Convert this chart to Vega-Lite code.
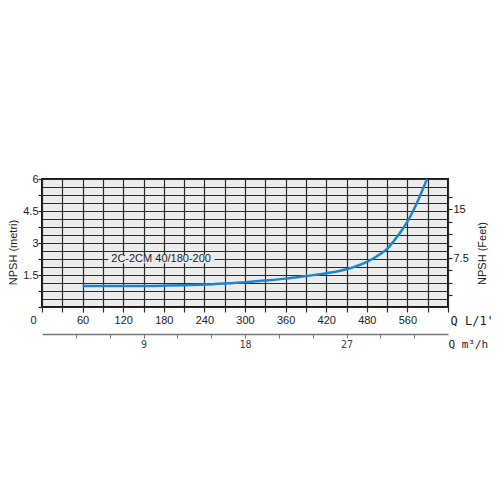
{
  "$schema": "https://vega.github.io/schema/vega-lite/v6.json",
  "background": "white",
  "autosize": "none",
  "padding": {"left": 42, "top": 179, "right": 52, "bottom": 193},
  "width": 406,
  "height": 128,
  "config": {
    "view": {"stroke": "#1a1a1a", "strokeWidth": 2, "fill": "#ececec"},
    "axis": {"labelFont": "Liberation Sans", "titleFont": "Liberation Sans", "labelColor": "#222", "titleColor": "#222"}
  },
  "datasets": {
    "curve": [
      {"q": 60, "q_m3h": 3.6, "npsh": 0.98, "npsh_ft": 3.22},
      {"q": 90, "q_m3h": 5.4, "npsh": 0.98, "npsh_ft": 3.22},
      {"q": 120, "q_m3h": 7.2, "npsh": 0.99, "npsh_ft": 3.25},
      {"q": 150, "q_m3h": 9.0, "npsh": 0.99, "npsh_ft": 3.25},
      {"q": 180, "q_m3h": 10.8, "npsh": 1.0, "npsh_ft": 3.28},
      {"q": 210, "q_m3h": 12.6, "npsh": 1.02, "npsh_ft": 3.35},
      {"q": 240, "q_m3h": 14.4, "npsh": 1.05, "npsh_ft": 3.44},
      {"q": 270, "q_m3h": 16.2, "npsh": 1.1, "npsh_ft": 3.61},
      {"q": 300, "q_m3h": 18.0, "npsh": 1.16, "npsh_ft": 3.81},
      {"q": 330, "q_m3h": 19.8, "npsh": 1.24, "npsh_ft": 4.07},
      {"q": 360, "q_m3h": 21.6, "npsh": 1.33, "npsh_ft": 4.36},
      {"q": 390, "q_m3h": 23.4, "npsh": 1.45, "npsh_ft": 4.76},
      {"q": 420, "q_m3h": 25.2, "npsh": 1.58, "npsh_ft": 5.18},
      {"q": 450, "q_m3h": 27.0, "npsh": 1.77, "npsh_ft": 5.81},
      {"q": 480, "q_m3h": 28.8, "npsh": 2.12, "npsh_ft": 6.96},
      {"q": 495, "q_m3h": 29.7, "npsh": 2.38, "npsh_ft": 7.81},
      {"q": 510, "q_m3h": 30.6, "npsh": 2.72, "npsh_ft": 8.92},
      {"q": 525, "q_m3h": 31.5, "npsh": 3.3, "npsh_ft": 10.83},
      {"q": 540, "q_m3h": 32.4, "npsh": 4.0, "npsh_ft": 13.12},
      {"q": 555, "q_m3h": 33.3, "npsh": 4.95, "npsh_ft": 16.24},
      {"q": 569, "q_m3h": 34.14, "npsh": 6.0, "npsh_ft": 19.68}
    ]
  },
  "layer": [
    {
      "encoding": {
        "x": {
          "field": "q", "type": "quantitative",
          "scale": {"domain": [0, 600], "nice": false},
          "axis": {
            "title": "Q L/1'", "titleFont": "DejaVu Sans Mono", "titleFontSize": 12, "titleFontWeight": "normal",
            "titleX": 408, "titleY": 13, "titleAlign": "left", "titleBaseline": "middle",
            "values": [0, 30, 60, 90, 120, 150, 180, 210, 240, 270, 300, 330, 360, 390, 420, 450, 480, 510, 540, 570, 600],
            "labelExpr": "datum.value == 0 ? '0' : datum.value == 540 ? '560' : (datum.value % 60 == 0 && datum.value < 540) ? '' + datum.value : ''",
            "labelAlign": {"condition": {"test": "datum.value == 0", "value": "right"}, "value": "center"},
            "labelOffset": {"condition": {"test": "datum.value == 0", "value": -6}, "value": 0},
            "labelFontSize": 11, "labelPadding": 2, "labelFlush": false, "labelOverlap": false,
            "domain": false, "grid": true, "gridColor": "#2a2a2a", "gridWidth": 1.2,
            "ticks": true, "tickColor": "#2a2a2a", "tickSize": 5, "tickWidth": 1.2
          }
        },
        "y": {
          "field": "npsh", "type": "quantitative",
          "scale": {"domain": [0, 6], "nice": false},
          "axis": {
            "title": "NPSH (metri)", "titleFontSize": 11, "titleFontWeight": "normal",
            "titleX": -29, "titleY": 73, "titleAngle": 270, "titleAlign": "center", "titleBaseline": "middle",
            "values": [0, 0.375, 0.75, 1.125, 1.5, 1.875, 2.25, 2.625, 3, 3.375, 3.75, 4.125, 4.5, 4.875, 5.25, 5.625, 6],
            "labelExpr": "(datum.value % 1.5 == 0 && datum.value > 0) ? '' + datum.value : ''",
            "labelFontSize": 11, "labelPadding": 0, "labelFlush": false, "labelOverlap": false,
            "domain": false, "grid": true, "gridColor": "#2a2a2a", "gridWidth": 1.2,
            "ticks": true, "tickColor": "#2a2a2a", "tickSize": 4, "tickWidth": 1.2,
            "tickOpacity": {"condition": {"test": "datum.value % 0.75 == 0", "value": 1}, "value": 0}
          }
        }
      },
      "layer": [
        {
          "data": {"values": [{"q": 98, "q2": 255, "npsh": 2.05, "npsh2": 2.45}]},
          "mark": {"type": "rect", "fill": "#ececec"},
          "encoding": {"x2": {"field": "q2"}, "y2": {"field": "npsh2"}}
        },
        {
          "data": {"values": [{"q": 176, "npsh": 2.25, "label": "2C-2CM 40/180-200"}]},
          "mark": {"type": "text", "font": "Liberation Sans", "fontSize": 11, "color": "#222", "align": "center", "baseline": "middle"},
          "encoding": {"text": {"field": "label"}}
        },
        {
          "data": {"name": "curve"},
          "mark": {"type": "line", "color": "#1a86d0", "strokeWidth": 2.5, "interpolate": "monotone"}
        }
      ]
    },
    {
      "data": {"name": "curve"},
      "mark": {"type": "line", "opacity": 0},
      "encoding": {
        "x": {"field": "q", "type": "quantitative", "scale": {"domain": [0, 600], "nice": false}, "axis": null},
        "y": {
          "field": "npsh_ft", "type": "quantitative",
          "scale": {"domain": [0, 19.685], "nice": false},
          "axis": {
            "orient": "right", "title": "NPSH (Feet)", "titleFontSize": 11, "titleFontWeight": "normal",
            "titleX": 34, "titleY": 74, "titleAngle": 270, "titleAlign": "center", "titleBaseline": "middle",
            "values": [1.875, 3.75, 5.625, 7.5, 9.375, 11.25, 13.125, 15, 16.875],
            "labelExpr": "(datum.value == 7.5 || datum.value == 15) ? '' + datum.value : ''",
            "labelFontSize": 11, "labelPadding": 1, "labelFlush": false, "labelOverlap": false,
            "domain": false, "grid": false,
            "tickColor": "#2a2a2a", "tickSize": 4, "tickWidth": 1.2
          }
        }
      }
    },
    {
      "data": {"name": "curve"},
      "mark": {"type": "line", "opacity": 0},
      "encoding": {
        "x": {
          "field": "q_m3h", "type": "quantitative",
          "scale": {"domain": [0, 36], "nice": false},
          "axis": {
            "orient": "bottom", "offset": 27,
            "title": "Q m³/h", "titleFont": "DejaVu Sans Mono", "titleFontSize": 11, "titleFontWeight": "normal",
            "titleX": 406, "titleY": 10, "titleAlign": "left", "titleBaseline": "middle",
            "values": [3, 6, 9, 12, 15, 18, 21, 24, 27, 30, 33],
            "labelExpr": "datum.value % 9 == 0 ? '' + datum.value : ''",
            "labelFont": "DejaVu Sans Mono", "labelFontSize": 10, "labelColor": "#444", "labelPadding": 1,
            "labelFlush": false, "labelOverlap": false,
            "domain": true, "domainColor": "#777", "domainWidth": 1.5,
            "grid": false, "tickColor": "#777", "tickSize": 4, "tickWidth": 1
          }
        },
        "y": {"field": "npsh", "type": "quantitative", "scale": {"domain": [0, 6], "nice": false}, "axis": null}
      }
    }
  ],
  "resolve": {"scale": {"x": "independent", "y": "independent"}}
}
